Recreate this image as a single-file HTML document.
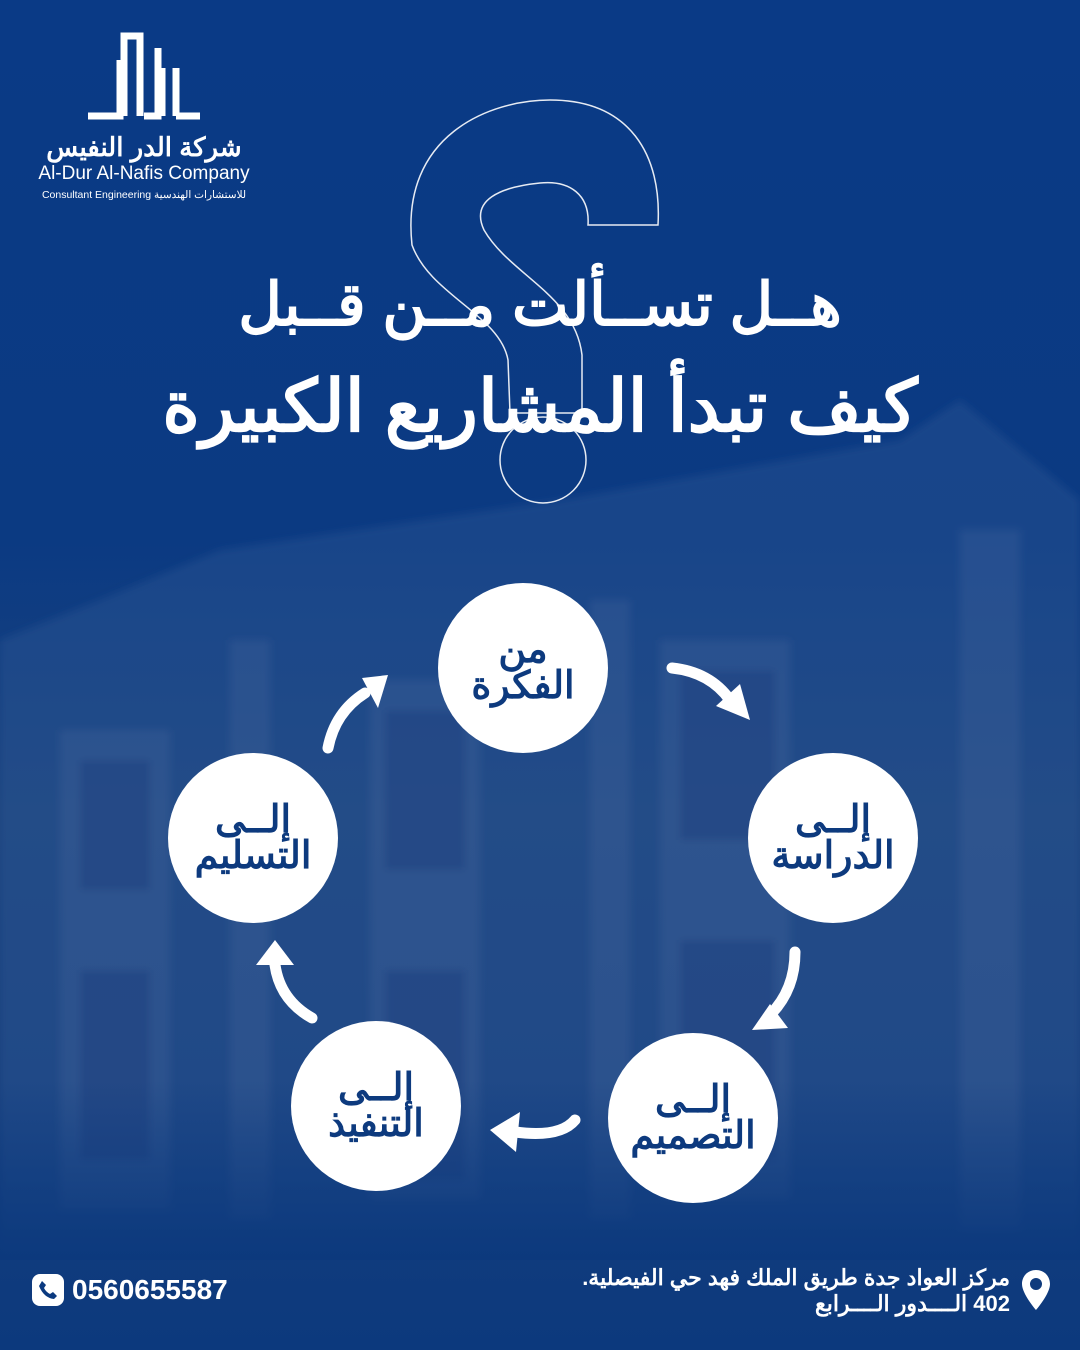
<!DOCTYPE html>
<html lang="ar">
<head>
<meta charset="utf-8">
<style>
html,body{margin:0;padding:0;}
body{width:1080px;height:1350px;overflow:hidden;position:relative;
font-family:"Liberation Sans","Noto Sans CJK SC",sans-serif;
background:linear-gradient(180deg,#0a3a86 0%,#0b3a82 40%,#1a437f 60%,#163f7e 80%,#0c397d 100%);}
.bld{position:absolute;left:0;top:380px;width:1080px;height:880px;}
.c{position:absolute;width:170px;height:170px;border-radius:50%;background:#fff;
display:flex;align-items:center;justify-content:center;flex-direction:column;
color:#0d3a7e;font-weight:bold;font-size:38px;line-height:36px;text-align:center;direction:rtl;}
.t1{position:absolute;left:0;width:1080px;text-align:center;color:#fff;font-weight:bold;direction:rtl;}
</style>
</head>
<body>
<svg class="bld" width="1080" height="880" viewBox="0 0 1080 880">
  <defs>
    <filter id="b"><feGaussianBlur stdDeviation="4"/></filter>
    <linearGradient id="fd" x1="0" y1="0" x2="0" y2="1">
      <stop offset="0" stop-color="#0c397d" stop-opacity="0"/>
      <stop offset="1" stop-color="#0c397d" stop-opacity="1"/>
    </linearGradient>
  </defs>
  <g filter="url(#b)">
  <g fill="#3b5f9c" opacity="0.3">
    <polygon points="100,220 220,170 560,120 900,60 960,20 1080,120 1080,880 0,880 0,260"/>
  </g>
  <g fill="#5575aa" opacity="0.2">
    <rect x="60" y="350" width="110" height="480"/>
    <rect x="370" y="300" width="110" height="520"/>
    <rect x="660" y="260" width="130" height="560"/>
    <rect x="230" y="260" width="40" height="580"/>
    <rect x="590" y="220" width="40" height="620"/>
    <rect x="960" y="150" width="60" height="700"/>
  </g>
  <g fill="#14357a" opacity="0.35">
    <rect x="80" y="380" width="70" height="130"/>
    <rect x="385" y="330" width="80" height="160"/>
    <rect x="680" y="290" width="95" height="170"/>
    <rect x="80" y="590" width="70" height="190"/>
    <rect x="385" y="590" width="80" height="210"/>
    <rect x="680" y="560" width="95" height="220"/>
  </g>
  </g>
  <rect x="0" y="700" width="1080" height="180" fill="url(#fd)"/>
</svg>

<!-- logo -->
<svg style="position:absolute;left:80px;top:28px" width="130" height="95" viewBox="0 0 130 95">
  <g fill="none" stroke="#fff" stroke-width="7">
    <path d="M8,88 H40 V32"/>
    <path d="M44,88 V8 H60 V88"/>
    <path d="M64,88 H78 V20"/>
    <path d="M82,88 V40"/>
    <path d="M96,88 V40"/>
    <path d="M96,88 H120"/>
  </g>
</svg>
<div style="position:absolute;left:30px;top:132px;width:228px;text-align:center;color:#fff;font-weight:bold;font-size:26px;direction:rtl;">شركة الدر النفيس</div>
<div style="position:absolute;left:30px;top:163px;width:228px;text-align:center;color:#fff;font-size:19px;">Al-Dur Al-Nafis Company</div>
<div style="position:absolute;left:30px;top:189px;width:228px;text-align:center;color:#fff;font-size:10.5px;">Consultant Engineering للاستشارات الهندسية</div>

<!-- question mark outline -->
<svg style="position:absolute;left:400px;top:95px" width="270" height="420" viewBox="0 0 270 420">
  <g fill="none" stroke="#fff" stroke-width="1.5" opacity="0.9">
    <path d="M12,150 C 0,40 90,5 150,5 C 230,5 262,60 258,130 L 188,130 C 190,100 170,85 140,88 C 100,92 70,105 84,135 C 110,180 175,200 182,260 L 182,318 L 110,318 L 108,265 C 100,220 30,200 12,150 Z"/>
    <circle cx="143" cy="365" r="43"/>
  </g>
</svg>

<div class="t1" style="top:270px;font-size:60px;">هــل تســألت مــن قــبل</div>
<div class="t1" style="top:364px;font-size:72px;">كيف تبدأ المشاريع الكبيرة</div>

<div class="c" style="left:438px;top:583px;"><div>من</div><div>الفكرة</div></div>
<div class="c" style="left:748px;top:753px;"><div>إلــى</div><div>الدراسة</div></div>
<div class="c" style="left:608px;top:1033px;"><div>إلــى</div><div>التصميم</div></div>
<div class="c" style="left:291px;top:1021px;"><div>إلــى</div><div>التنفيذ</div></div>
<div class="c" style="left:168px;top:753px;"><div>إلــى</div><div>التسليم</div></div>

<!-- arrows -->
<svg style="position:absolute;left:0;top:0" width="1080" height="1350">
  <g fill="none" stroke="#fff" stroke-width="11" stroke-linecap="round">
    <path d="M672,668 Q710,672 730,700"/>
    <path d="M795,952 Q795,990 770,1015"/>
    <path d="M575,1120 Q560,1138 515,1132"/>
    <path d="M312,1018 Q280,1000 275,965"/>
    <path d="M328,748 Q335,712 365,693"/>
  </g>
  <g fill="#fff">
    <polygon points="716,706 750,720 740,684"/>
    <polygon points="752,1030 788,1028 770,1004"/>
    <polygon points="490,1130 516,1152 520,1112"/>
    <polygon points="256,965 275,940 294,965"/>
    <polygon points="362,678 388,675 378,708"/>
  </g>
</svg>

<!-- footer -->
<div style="position:absolute;left:32px;top:1274px;width:32px;height:32px;border-radius:8px;background:#fff;"></div>
<svg style="position:absolute;left:36px;top:1278px" width="24" height="24" viewBox="0 0 24 24"><path d="M6,3 L10,7 L8,10 Q10,14 14,16 L17,14 L21,18 L18,21 Q8,20 3,8 Z" fill="#0b3a80"/></svg>
<div style="position:absolute;left:72px;top:1274px;color:#fff;font-weight:bold;font-size:28px;">0560655587</div>

<div style="position:absolute;left:500px;top:1265px;width:510px;text-align:right;color:#fff;font-size:22px;line-height:26px;direction:rtl;font-weight:bold;">مركز العواد جدة طريق الملك فهد حي الفيصلية.<br>402 الــــدور الــــرابع</div>
<svg style="position:absolute;left:1020px;top:1268px" width="32" height="44" viewBox="0 0 32 44"><path d="M16,2 C7,2 2,9 2,16 C2,26 16,42 16,42 C16,42 30,26 30,16 C30,9 25,2 16,2 Z M16,10 A6,6 0 1,1 16,22 A6,6 0 1,1 16,10 Z" fill="#fff" fill-rule="evenodd"/></svg>
</body>
</html>
